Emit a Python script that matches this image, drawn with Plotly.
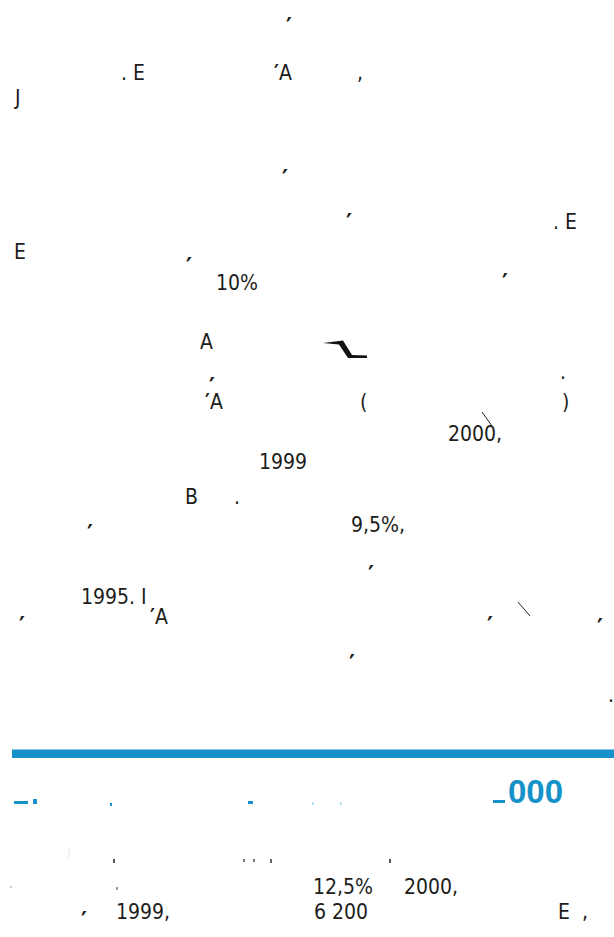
import plotly.graph_objects as go

# Text fragments that remain visible on the page (the rest of the glyphs are missing)
body_texts = [". E", "<b>′</b>A", ",", "J",
              ". E", "E", "10%",
              "A", "<b>′</b>A", "(", ")", ".",
              "2000,", "1999", "B", ".",
              "9,5%,", "1995. I", "<b>′</b>A", "."]
body_x = [119, 272, 355, 12,
          551, 12, 214,
          198, 203, 358, 560, 558,
          446, 257, 183, 232,
          349, 79, 148, 606]
body_y = [73, 73, 73, 98,
          222, 252, 283,
          342, 402, 402, 402, 372,
          434, 462, 497, 497,
          525, 597, 617, 695]

mark_texts = ["′"] * 12
mark_x = [284, 280, 344, 184, 500, 207, 85, 366, 17, 485, 595, 347]
mark_y = [18, 170, 214, 258, 274, 378, 525, 566, 617, 617, 619, 655]

sec_texts = ["12,5%", "2000,", "′", "1999,", "6 200", "E", ","]
sec_x = [311, 402, 79, 114, 312, 556, 580]
sec_y = [887, 887, 912, 912, 912, 912, 912]

heading_text = "000"

TEXT_FONT = "DejaVu Sans Condensed, Liberation Sans Narrow, sans-serif"
BLUE = "#1592C9"
INK = "#1d1d1b"

fig = go.Figure()
fig.add_trace(go.Scatter(x=[0, 614], y=[0, 937], mode="markers",
                         marker=dict(opacity=0), hoverinfo="skip", showlegend=False))

ann = []
for t, x, y in zip(body_texts, body_x, body_y):
    ann.append(dict(x=x, y=y, text=t, xref="x", yref="y", showarrow=False,
                    xanchor="left", yanchor="middle",
                    font=dict(family=TEXT_FONT, size=21, color=INK)))
for t, x, y in zip(mark_texts, mark_x, mark_y):
    ann.append(dict(x=x, y=y + 8, text=t, xref="x", yref="y", showarrow=False,
                    xanchor="left", yanchor="middle",
                    font=dict(family=TEXT_FONT, size=25, color=INK, weight="bold")))
for t, x, y in zip(sec_texts, sec_x, sec_y):
    mark = t == "′"
    ann.append(dict(x=x, y=y + 8 if mark else y, text=t, xref="x", yref="y",
                    showarrow=False, xanchor="left", yanchor="middle",
                    font=dict(family=TEXT_FONT, size=25 if mark else 21, color=INK,
                              weight="bold" if mark else "normal")))
ann.append(dict(x=506, y=791, text=heading_text, xref="x", yref="y", showarrow=False,
                xanchor="left", yanchor="middle",
                font=dict(family="Liberation Sans, Arial, sans-serif", size=33,
                          color=BLUE, weight="bold")))

def rect(x0, x1, y0, y1, color):
    return dict(type="rect", xref="x", yref="y", x0=x0, x1=x1, y0=y0, y1=y1,
                fillcolor=color, line=dict(width=0))

shapes = [
    # blue rule
    rect(12, 614, 750, 758, BLUE),
    dict(type="line", xref="x", yref="y", x0=12, x1=614, y0=749.5, y1=749.5,
         line=dict(color="#8cc8e4", width=1)),
    # broken glyph
    dict(type="path", xref="x", yref="y",
         path="M 323 343 L 343 340.5 L 352 355 L 367 355.5 L 367 358 L 348 358 L 339 344.5 Z",
         fillcolor="#111111", line=dict(width=0)),
    # stray strokes
    dict(type="line", xref="x", yref="y", x0=482, y0=412, x1=492, y1=426,
         line=dict(color="#222222", width=1)),
    dict(type="line", xref="x", yref="y", x0=518, y0=602, x1=530, y1=616,
         line=dict(color="#222222", width=1)),
    # heading fragments (cropped glyph tops)
    rect(14, 28, 801, 804, BLUE),
    rect(33, 37, 799, 804, BLUE),
    rect(493, 505, 800, 803, BLUE),
    rect(110, 112, 803, 806, BLUE),
    rect(248, 253, 801, 804, BLUE),
    rect(312, 314, 802, 805, "#bfe0f0"),
    rect(340, 342, 802, 805, "#bfe0f0"),
    # faint cropped glyph fragments below the heading
    rect(68.5, 69.5, 847, 858, "#e6e6e6"),
    rect(113, 115, 859, 863, "#555555"),
    rect(243, 245, 859, 862, "#777777"),
    rect(253, 255, 859, 862, "#777777"),
    rect(270, 272, 859, 863, "#666666"),
    rect(389, 391, 859, 863, "#555555"),
    rect(10, 12, 886, 888, "#cccccc"),
    rect(116, 118, 887, 890, "#999999"),
]

fig.update_layout(
    width=614, height=937,
    margin=dict(l=0, r=0, t=0, b=0),
    paper_bgcolor="white", plot_bgcolor="white",
    xaxis=dict(range=[0, 614], visible=False, fixedrange=True),
    yaxis=dict(range=[937, 0], visible=False, fixedrange=True),
    annotations=ann, shapes=shapes, showlegend=False,
)
fig.write_html("out.html", config={"displayModeBar": False},
               post_script="document.body.style.margin='0px';")
